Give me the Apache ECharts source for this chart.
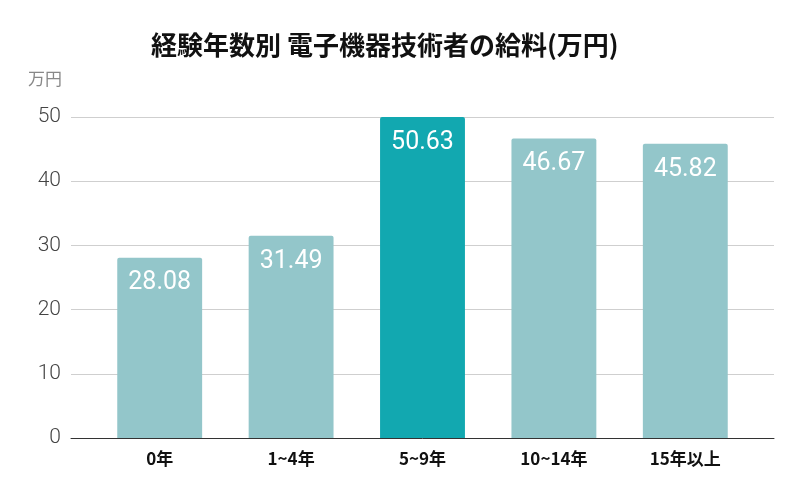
<!DOCTYPE html>
<html>
<head>
<meta charset="utf-8">
<script src="https://cdn.jsdelivr.net/npm/echarts@6/dist/echarts.min.js"></script>
<style>
  html, body { margin: 0; padding: 0; background: #fff; }
  #main { width: 799px; height: 494px; }
</style>
</head>
<body>
<div id="main"></div>
<script>
var categories = ['0年', '1~4年', '5~9年', '10~14年', '15年以上'];
var salaries = [28.08, 31.49, 50.63, 46.67, 45.82];
var highlightIndex = 2;
var yTicks = [0, 10, 20, 30, 40, 50];

var barColor = '#93c6ca';
var highColor = '#12a8b0';

var chart = echarts.init(document.getElementById('main'));

// grid 0 = gridlines + y labels (full width), grid 1 = the bars (inset a bit)
var option = {
  backgroundColor: '#fff',
  title: {
    text: '経験年数別 電子機器技術者の給料(万円)',
    left: 146,
    top: 27,
    textStyle: {
      fontFamily: 'Noto Sans CJK JP',
      fontSize: 26,
      fontWeight: 'bold',
      color: '#111'
    }
  },
  grid: [
    { left: 71, right: 25, top: 117, bottom: 56 },
    { left: 94, right: 48, top: 117, bottom: 56 }
  ],
  xAxis: [{
    type: 'category',
    gridIndex: 0,
    data: [''],
    axisLine: { lineStyle: { color: '#333', width: 1 } },
    axisTick: { show: false },
    axisLabel: { show: false }
  }, {
    type: 'category',
    gridIndex: 1,
    data: categories,
    axisLine: { show: false },
    axisTick: { show: false },
    axisLabel: {
      color: '#111',
      fontSize: 17,
      fontWeight: 'bold',
      fontFamily: 'Noto Sans CJK JP',
      margin: 12
    }
  }],
  yAxis: [{
    type: 'value',
    gridIndex: 0,
    min: yTicks[0],
    max: yTicks[yTicks.length - 1],
    interval: 10,
    name: '万円',
    nameLocation: 'end',
    nameGap: 30,
    nameTextStyle: {
      color: '#888',
      fontSize: 17,
      fontFamily: 'Noto Sans CJK JP',
      align: 'right',
      padding: [0, 9, 0, 0]
    },
    axisLine: { show: false },
    axisTick: { show: false },
    axisLabel: {
      color: '#444',
      fontSize: 21,
      fontFamily: 'Roboto',
      fontWeight: 300,
      margin: 10
    },
    splitLine: { lineStyle: { color: '#cfcfcf', width: 1 } }
  }, {
    type: 'value',
    gridIndex: 1,
    min: yTicks[0],
    max: yTicks[yTicks.length - 1],
    interval: 10,
    show: false
  }],
  series: [{
    type: 'bar',
    xAxisIndex: 1,
    yAxisIndex: 1,
    barWidth: '64.6%',
    clip: true,
    data: salaries.map(function (v, i) {
      return {
        value: v,
        itemStyle: {
          color: i === highlightIndex ? highColor : barColor,
          borderRadius: [2, 2, 0, 0]
        }
      };
    }),
    label: {
      show: true,
      position: 'insideTop',
      distance: 13,
      color: '#fff',
      fontSize: 25,
      fontFamily: 'Roboto',
      formatter: function (p) { return p.value.toFixed(2); }
    }
  }]
};
chart.setOption(option);
</script>
</body>
</html>
